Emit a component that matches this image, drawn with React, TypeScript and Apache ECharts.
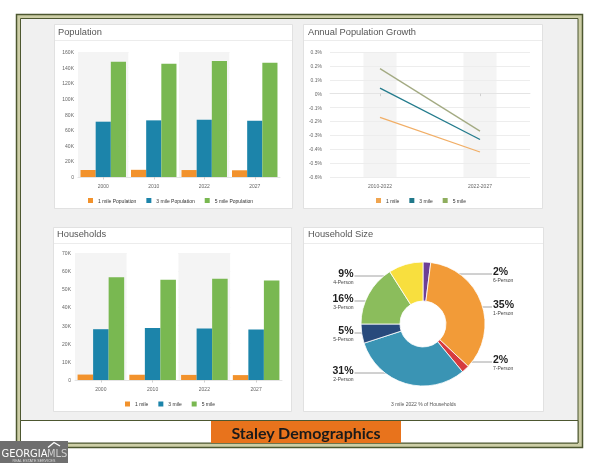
import React, { useEffect, useRef } from 'react';
import * as echarts from 'echarts';

// ---------- data ----------
const years = ['2000', '2010', '2022', '2027'];
const pop1Mile = [9000, 9200, 8900, 8600];
const pop3Mile = [70800, 72500, 73300, 72000];
const pop5Mile = [147500, 145000, 148400, 146300];
const popSeriesNames = ['1 mile Population', '3 mile Population', '5 mile Population'];

const growthPeriods = ['2010-2022', '2022-2027'];
const growth1Mile = [-0.17, -0.42];
const growth3Mile = [0.04, -0.33];
const growth5Mile = [0.18, -0.27];

const hh1Mile = [3000, 2900, 2800, 2700];
const hh3Mile = [28000, 28700, 28400, 27800];
const hh5Mile = [56700, 55200, 55800, 54900];
const radiusNames = ['1 mile', '3 mile', '5 mile'];

const sizeNames = ['6-Person', '1-Person', '7-Person', '2-Person', '5-Person', '3-Person', '4-Person'];
const sizeValues = [2, 35, 2, 31, 5, 16, 9];
const sizeSubtitle = '3 mile 2022 % of Households';

// ---------- styles ----------
const FONT = "'Liberation Sans', Arial, sans-serif";
const barColors = ['#f2922c', '#1c84aa', '#79b851'];
const lineColors = ['#f1ae66', '#237b8c', '#a3aa82'];
const lineLegendColors = ['#f0a550', '#20788a', '#8fae5e'];
const sizeColors = ['#6d3f96', '#f29b38', '#d63a3e', '#3a94b4', '#284a7c', '#8bbd5c', '#f8df3e'];
const sizeLabelY = [274, 307, 362, 373, 333, 301, 276];
const PIE_CX = 423;
const PIE_CY = 324;

const kFmt = (v: number) => (v === 0 ? '0' : `${v / 1000}K`);
const pctFmt = (v: number) => `${parseFloat(v.toFixed(1))}%`;

const axisLabelBase = { fontSize: 5, color: '#666', fontFamily: FONT };

function catAxis(gridIndex: number, data: string[], split: boolean) {
  return {
    gridIndex,
    type: 'category',
    data,
    axisTick: { show: true, alignWithLabel: true, length: 2.5, lineStyle: { color: '#cfcfcf' } },
    axisLine: { show: true, lineStyle: { color: '#e4e4e4', width: 1 } },
    axisLabel: { ...axisLabelBase, margin: 6 },
    splitLine: { show: false },
    splitArea: split ? { show: true, areaStyle: { color: ['#f4f4f4', '#ffffff'] } } : { show: false },
  };
}

function valAxis(gridIndex: number, min: number, max: number, interval: number, fmt: (v: number) => string, margin: number) {
  return {
    gridIndex,
    type: 'value',
    min,
    max,
    interval,
    axisLine: { show: false },
    axisTick: { show: false },
    axisLabel: { ...axisLabelBase, margin, formatter: fmt },
    splitLine: { show: true, lineStyle: { color: '#ededed', width: 1 } },
  };
}

function card(x: number, y: number, w: number, h: number, title: string, tx: number, ty: number) {
  return [
    { type: 'rect', z: -20, silent: true, shape: { x: x + 0.5, y: y + 0.5, width: w, height: h }, style: { fill: '#ffffff', stroke: '#e1e1e1', lineWidth: 1 } },
    { type: 'line', z: -19, silent: true, shape: { x1: x + 1, y1: y + 16.5, x2: x + w, y2: y + 16.5 }, style: { stroke: '#ececec', lineWidth: 1 } },
    { type: 'text', z: 10, silent: true, x: tx, y: ty, style: { text: title, fontSize: 9.3, fontFamily: FONT, fill: '#555555', align: 'left', verticalAlign: 'middle' } },
  ];
}

const total = sizeValues.reduce((a, b) => a + b, 0);
const midAngles: number[] = [];
{
  let cum = 0;
  sizeValues.forEach((v) => {
    midAngles.push(((cum + v / 2) / total) * Math.PI * 2);
    cum += v;
  });
}

const legendBase = {
  itemWidth: 5,
  itemHeight: 5,
  itemGap: 10,
  icon: 'rect',
  selectedMode: false,
  textStyle: { fontSize: 5, color: '#333', fontFamily: FONT },
  padding: 0,
};

export default function App() {
  const ref = useRef<HTMLDivElement>(null);
  useEffect(() => {
    if (!ref.current) return;
    const chart = echarts.init(ref.current, undefined, { renderer: 'svg' });
    const option: any = {
      animation: false,
      textStyle: { fontFamily: FONT },
      grid: [
        { left: 78, top: 52, width: 202, height: 125 },
        { left: 330, top: 52, width: 200, height: 125 },
        { left: 75, top: 253, width: 207, height: 127 },
      ],
      xAxis: [catAxis(0, years, true), catAxis(1, growthPeriods, false), catAxis(2, years, true)],
      yAxis: [
        valAxis(0, 0, 160000, 20000, kFmt, 4),
        valAxis(1, -0.6, 0.3, 0.1, pctFmt, 8),
        valAxis(2, 0, 70000, 10000, kFmt, 4),
      ],
      legend: [
        { ...legendBase, left: 88, top: 198, data: popSeriesNames },
        {
          ...legendBase,
          left: 376,
          top: 198,
          data: radiusNames.map((n, i) => ({ name: n, itemStyle: { color: lineLegendColors[i] } })),
        },
        {
          ...legendBase,
          left: 125,
          top: 401.5,
          data: radiusNames.map((n, i) => ({ name: n, itemStyle: { color: barColors[i] } })),
        },
      ],
      series: [
        ...[pop1Mile, pop3Mile, pop5Mile].map((d, i) => ({
          type: 'bar',
          name: popSeriesNames[i],
          xAxisIndex: 0,
          yAxisIndex: 0,
          data: d,
          barGap: '0%',
          barCategoryGap: '10%',
          itemStyle: { color: barColors[i] },
        })),
        ...[hh1Mile, hh3Mile, hh5Mile].map((d, i) => ({
          type: 'bar',
          name: radiusNames[i],
          xAxisIndex: 2,
          yAxisIndex: 2,
          data: d,
          barGap: '0%',
          barCategoryGap: '10%',
          itemStyle: { color: barColors[i] },
        })),
        {
          type: 'bar',
          name: 'band',
          xAxisIndex: 1,
          yAxisIndex: 1,
          data: growthPeriods.map(() => 0),
          barWidth: 33,
          silent: true,
          z: -1,
          itemStyle: { color: 'rgba(0,0,0,0)' },
          showBackground: true,
          backgroundStyle: { color: '#f4f4f4' },
        },
        ...[growth1Mile, growth3Mile, growth5Mile].map((d, i) => ({
          type: 'line',
          name: radiusNames[i],
          xAxisIndex: 1,
          yAxisIndex: 1,
          data: d,
          showSymbol: false,
          symbol: 'none',
          lineStyle: { color: lineColors[i], width: 1.3 },
          itemStyle: { color: lineColors[i] },
        })),
        {
          type: 'pie',
          center: [PIE_CX, PIE_CY],
          radius: [23, 62],
          startAngle: 90,
          clockwise: true,
          avoidLabelOverlap: false,
          data: sizeNames.map((n, i) => ({ name: n, value: sizeValues[i], itemStyle: { color: sizeColors[i] } })),
          itemStyle: { borderColor: '#ffffff', borderWidth: 0.8 },
          label: {
            show: true,
            formatter: (p: any) => `{p|${p.value}%}\n{n|${p.name}}`,
            rich: {
              p: { fontSize: 10.5, fontWeight: 'bold', color: '#1e1e1e', lineHeight: 11, fontFamily: FONT },
              n: { fontSize: 5, color: '#444', lineHeight: 6, fontFamily: FONT },
            },
          },
          labelLine: { show: true, length: 5, length2: 5, lineStyle: { color: '#8a8a8a', width: 0.8 } },
          labelLayout: (p: any) => {
            const i = p.dataIndex;
            const th = midAngles[i];
            const mx = PIE_CX + 45 * Math.sin(th);
            const my = PIE_CY - 45 * Math.cos(th);
            const right = Math.sin(th) > 0;
            const y = sizeLabelY[i];
            const lx = right ? 493 : 353.5;
            return {
              x: lx,
              y,
              align: right ? 'left' : 'right',
              verticalAlign: 'middle',
              labelLinePoints: [
                [right ? lx - 1 : lx + 1, y],
                [right ? mx + 3 : mx - 3, y],
                [mx, my],
              ],
            };
          },
        },
      ],
      graphic: [
        { type: 'rect', z: -30, silent: true, shape: { x: 16.5, y: 14.5, width: 566, height: 433 }, style: { fill: '#cdcea6', stroke: '#4d5730', lineWidth: 1.5 } },
        { type: 'rect', z: -29, silent: true, shape: { x: 20.5, y: 18.5, width: 557.5, height: 424.5 }, style: { fill: '#f0f0f0', stroke: '#4d5730', lineWidth: 1 } },
        { type: 'rect', z: -28, silent: true, shape: { x: 20.5, y: 420.5, width: 557.5, height: 22.5 }, style: { fill: '#ffffff', stroke: '#4d5730', lineWidth: 1 } },
        { type: 'rect', z: -27, silent: true, shape: { x: 211, y: 421, width: 190, height: 22 }, style: { fill: '#e8731c' } },
        { type: 'text', z: 10, silent: true, x: 306, y: 432.5, style: { text: 'Staley Demographics', fontSize: 16, fontWeight: 'bold', fontFamily: 'Lato, ' + FONT, fill: '#1a1a1a', align: 'center', verticalAlign: 'middle' } },
        ...card(54, 24, 238, 184, 'Population', 58, 31.7),
        ...card(303, 24, 239, 184, 'Annual Population Growth', 308, 31.7),
        ...card(53, 227, 238, 184, 'Households', 57, 234),
        ...card(303, 227, 240, 184, 'Household Size', 308, 234),
        { type: 'text', z: 10, silent: true, x: 423.5, y: 404, style: { text: sizeSubtitle, fontSize: 5, fontFamily: FONT, fill: '#555', align: 'center', verticalAlign: 'middle' } },
        // logo
        { type: 'rect', z: 20, silent: true, shape: { x: 0, y: 441, width: 68, height: 22 }, style: { fill: '#6f6f6f' } },
        { type: 'text', z: 21, silent: true, x: 1.5, y: 453, style: { text: 'GEORGIA', fontSize: 11, fontFamily: "'DejaVu Sans Condensed', 'Liberation Sans Narrow', " + FONT, fill: '#ffffff', align: 'left', verticalAlign: 'middle' } },
        { type: 'text', z: 21, silent: true, x: 47, y: 453, style: { text: 'MLS', fontSize: 11, fontFamily: "'DejaVu Sans Condensed', 'Liberation Sans Narrow', " + FONT, fill: '#cfcfcf', align: 'left', verticalAlign: 'middle' } },
        { type: 'polyline', z: 21, silent: true, shape: { points: [[48, 447.5], [54, 442.5], [60, 446]] }, style: { stroke: '#ffffff', lineWidth: 1.4, fill: null } },
        { type: 'text', z: 21, silent: true, x: 34, y: 460.5, style: { text: 'REAL ESTATE SERVICES', fontSize: 3.6, fontFamily: FONT, fill: '#dddddd', align: 'center', verticalAlign: 'middle' } },
      ],
    };
    chart.setOption(option);
    return () => chart.dispose();
  }, []);
  return <div ref={ref} style={{ position: 'fixed', left: 0, top: 0, width: 600, height: 463 }} />;
}
